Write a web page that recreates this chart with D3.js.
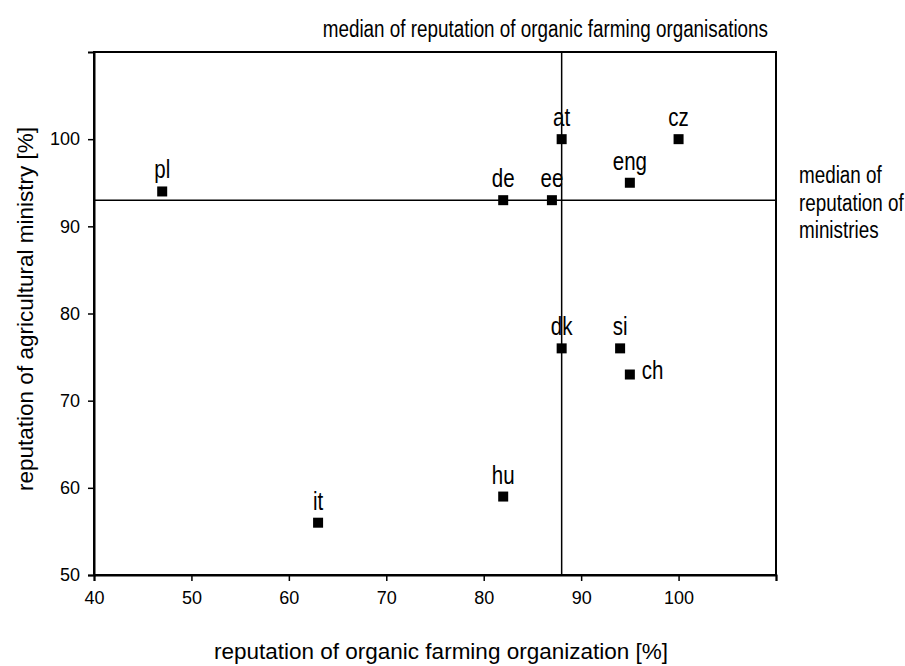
<!DOCTYPE html>
<html>
<head>
<meta charset="utf-8">
<script src="https://cdn.jsdelivr.net/npm/d3@7"></script>
<style>
  body { margin: 0; background: #fff; }
  svg { display: block; }
  text { font-family: 'Liberation Sans', Arial, sans-serif; fill: #000; }
</style>
</head>
<body>
<svg id="chart" width="905" height="666"></svg>
<script>
// ---- data ----
const countries = ["pl", "it", "hu", "de", "ee", "at", "dk", "eng", "cz", "si", "ch"];
const organicRep = [47, 63, 82, 82, 87, 88, 88, 95, 100, 94, 95];
const ministryRep = [94, 56, 59, 93, 93, 100, 76, 95, 100, 76, 73];
const xTicks = [40, 50, 60, 70, 80, 90, 100, 110];
const xTickLabels = ["40", "50", "60", "70", "80", "90", "100", ""];
const yTicks = [50, 60, 70, 80, 90, 100];
const medianOrganic = 88;
const medianMinistry = 93;

const svg = d3.select("#chart");
const m = { left: 94, right: 129, top: 52, bottom: 91 };
const W = 905, H = 666;
const x = d3.scaleLinear().domain([40, 110]).range([m.left, W - m.right]);
const y = d3.scaleLinear().domain([50, 110]).range([H - m.bottom, m.top]);
const NARROW = 0.82;

// condensed text helper (Arial Narrow look)
function narrowText(g, tx, ty, str, size, anchor) {
  return g.append("text")
    .attr("transform", `translate(${tx},${ty}) scale(${NARROW},1)`)
    .attr("text-anchor", anchor || "start")
    .attr("font-size", size)
    .text(str);
}

// frame
svg.append("rect")
  .attr("x", x(40)).attr("y", y(110))
  .attr("width", x(110) - x(40)).attr("height", y(50) - y(110))
  .attr("fill", "none").attr("stroke", "#000").attr("stroke-width", 2);

// axes
const xAxis = svg.append("g").attr("transform", `translate(0,${y(50)})`)
  .call(d3.axisBottom(x).tickValues(xTicks).tickSize(6).tickPadding(10)
    .tickFormat((d, i) => xTickLabels[i]));
const yAxis = svg.append("g").attr("transform", `translate(${x(40)},0)`)
  .call(d3.axisLeft(y).tickValues(yTicks).tickSize(6).tickPadding(8));
[xAxis, yAxis].forEach(g => {
  g.select(".domain").attr("stroke-width", 2);
  g.selectAll(".tick line").attr("stroke-width", 1.5);
  g.selectAll("text").attr("font-family", "'Liberation Sans', Arial, sans-serif")
    .attr("font-size", 18).attr("fill", "#000");
});

// median lines
svg.append("line")
  .attr("x1", x(medianOrganic)).attr("x2", x(medianOrganic))
  .attr("y1", y(110)).attr("y2", y(50))
  .attr("stroke", "#000").attr("stroke-width", 1.5);
svg.append("line")
  .attr("x1", x(40)).attr("x2", x(110))
  .attr("y1", y(medianMinistry)).attr("y2", y(medianMinistry))
  .attr("stroke", "#000").attr("stroke-width", 1.5);

// points
const data = countries.map((c, i) => ({ c, x: organicRep[i], y: ministryRep[i] }));
const ms = 10;
svg.append("g").selectAll("rect").data(data).join("rect")
  .attr("x", d => x(d.x) - ms / 2).attr("y", d => y(d.y) - ms / 2)
  .attr("width", ms).attr("height", ms).attr("fill", "#000");

const lbl = svg.append("g");
data.forEach(d => {
  if (d.c === "ch") narrowText(lbl, x(d.x) + 12, y(d.y) + 4, d.c, 25, "start");
  else narrowText(lbl, x(d.x), y(d.y) - 13, d.c, 25, "middle");
});

// axis titles
svg.append("text")
  .attr("x", 441).attr("y", 659)
  .attr("text-anchor", "middle").attr("font-size", 22.5)
  .text("reputation of organic farming organization [%]");
svg.append("text")
  .attr("transform", `translate(33,309) rotate(-90)`)
  .attr("text-anchor", "middle").attr("font-size", 22.5)
  .text("reputation of agricultural ministry [%]");

// median annotations
narrowText(svg, 768, 37, "median of reputation of organic farming organisations", 23, "end");
const rightLines = ["median of", "reputation of", "ministries"];
rightLines.forEach((t, i) => narrowText(svg, 799, 183 + i * 27.5, t, 23, "start"));
</script>
</body>
</html>
